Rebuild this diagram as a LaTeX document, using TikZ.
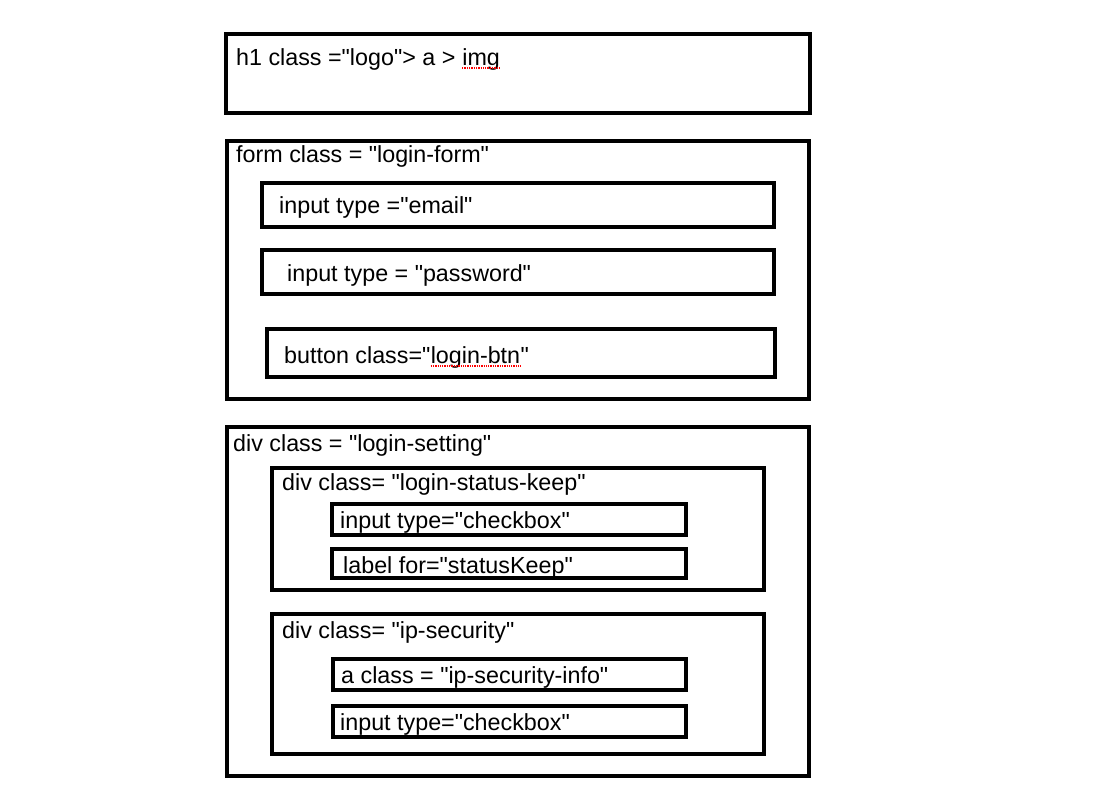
\documentclass[tikz,border=0pt]{standalone}
\usepackage{fontspec}
\setmainfont{Liberation Sans}[Ligatures=TeXOff]
\usetikzlibrary{positioning}
\tikzset{
  tagbox/.style={draw, line width=3.5pt, inner sep=0pt, outer sep=0pt, anchor=north west},
  tagtext/.style={anchor=base west, inner sep=0pt, font=\fontsize{23.3}{27}\selectfont},
  spellmark/.style={red, densely dotted, line width=1.3pt}
}
\begin{document}
\begin{tikzpicture}[x=1pt,y=-1pt]
\useasboundingbox (0,0) rectangle (1093,796);
% logo
\node[tagbox, minimum width=584pt, minimum height=79pt] (logo) at (226,34) {};
\node[tagtext] (logotxt) at (236,65) {h1 class ="logo"> a >};
\node[tagtext] (imgtxt) at ([xshift=6.5pt]logotxt.base east) {img};
\draw[spellmark] ([yshift=-3pt]imgtxt.base west) -- ([yshift=-3pt]imgtxt.base east);
% login form
\node[tagbox, minimum width=582pt, minimum height=258pt] (form) at (227,141) {};
\node[tagtext] (formtxt) at (236,162) {form class = "login-form"};
\node[tagbox, minimum width=512pt, minimum height=44pt] (email) at (262,183) {};
\node[tagtext] (emailtxt) at (279,213) {input type ="email"};
\node[tagbox, minimum width=512pt, minimum height=44pt] (pw) at (262,250) {};
\node[tagtext] (pwtxt) at (287,281) {input type = "password"};
\node[tagbox, minimum width=508pt, minimum height=48pt] (btn) at (267,329) {};
\node[tagtext] (btntxt) at (284,363) {button class="};
\node[tagtext] (btnword) at (btntxt.base east) {login-btn};
\node[tagtext] (btnend) at (btnword.base east) {"};
\draw[spellmark] ([yshift=-3pt]btnword.base west) -- ([yshift=-3pt]btnword.base east);
% login setting
\node[tagbox, minimum width=582pt, minimum height=349pt] (setting) at (227,427) {};
\node[tagtext] (settingtxt) at (233,451) {div class = "login-setting"};
\node[tagbox, minimum width=492pt, minimum height=122pt] (keep) at (272,468) {};
\node[tagtext] (keeptxt) at (282,490) {div class= "login-status-keep"};
\node[tagbox, minimum width=354pt, minimum height=31pt] (check) at (332,504) {};
\node[tagtext] (checktxt) at (340,528) {input type="checkbox"};
\node[tagbox, minimum width=354pt, minimum height=29pt] (lbl) at (332,549) {};
\node[tagtext] (lbltxt) at (343,573) {label for="statusKeep"};
\node[tagbox, minimum width=492pt, minimum height=140pt] (ipsec) at (272,614) {};
\node[tagtext] (ipsectxt) at (282,638) {div class= "ip-security"};
\node[tagbox, minimum width=353pt, minimum height=31pt] (ipinfo) at (333,659) {};
\node[tagtext] (ipinfotxt) at (341,683) {a class = "ip-security-info"};
\node[tagbox, minimum width=353pt, minimum height=31pt] (ipcheck) at (333,706) {};
\node[tagtext] (ipchecktxt) at (340,730) {input type="checkbox"};
\end{tikzpicture}
\end{document}
